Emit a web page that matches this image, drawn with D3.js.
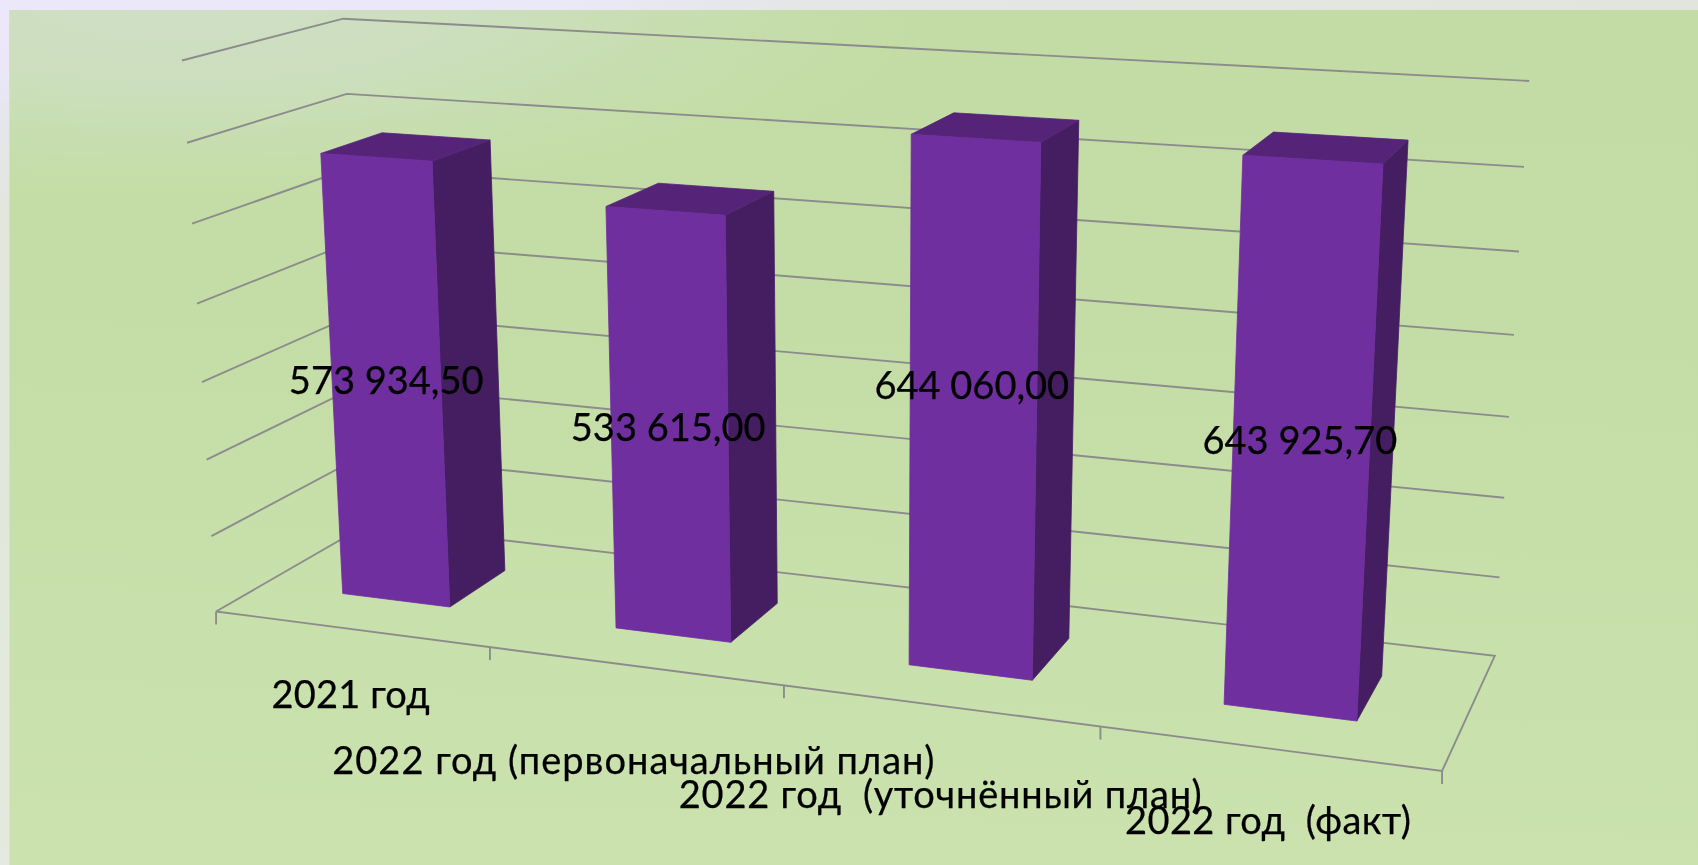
<!DOCTYPE html>
<html><head><meta charset="utf-8">
<script src="https://cdn.jsdelivr.net/npm/d3@7"></script>
<style>html,body{margin:0;padding:0;background:#ece9fb;overflow:hidden}svg{display:block;filter:blur(.5px)}text{white-space:pre;font-family:Lato,"Open Sans",sans-serif;fill:#000;stroke:#000;stroke-width:.25px}</style>
</head><body><svg id="c" width="1698" height="865"></svg>
<script>
// --- data ---
const categories = ["2021 год", "2022 год (первоначальный план)", "2022 год  (уточнённый план)", "2022 год  (факт)"];
const values = [573934.5, 533615.0, 644060.0, 643925.7];
const valueLabels = ["573 934,50", "533 615,00", "644 060,00", "643 925,70"];
const valueDomain = [0, 700000];
const gridCount = 7;

// --- layout ---
const W = 1698, H = 865;
const categoryLabelDrop = [79, 108, 102, 86];   // staggered baseline below the front floor edge
const categoryLabelShift = [2, 1, 3, 2];
const categoryLabelWidth = [158, 602, 523, 286];
const valueLabelShift = [[0, -3], [-1, 0], [-1, -27], [-1, -3]];
const fontSize = 38;

// world scales: x across, y up, z into the page, each onto the unit cube
const x = d3.scaleBand().domain(categories).range([0, 1]).paddingInner(0.6).paddingOuter(0.3);
const xStep = d3.scaleLinear().domain([0, categories.length]).range([0, 1]);
const y = d3.scaleLinear().domain(valueDomain).range([0, 1]);
const z = d3.scaleBand().domain(["s"]).range([0, 1]).paddingInner(0.6).paddingOuter(0.3);
const gridValues = y.ticks(gridCount);

// --- perspective camera fitted to the plot box corners ---
const cam = [
 [0,7,0,182,60],[0,6,0,187,142],[0,5,0,192.5,224],[0,4,0,197,304],[0,3,0,202,382],[0,2,0,206,460],[0,1,0,211,536],[0,0,0,217,612],
 [1,7,1,1529,81],[1,6,1,1524,167],[1,5,1,1519,252],[1,4,1,1513,334],[1,3,1,1510,417],[1,2,1,1505,498],[1,1,1,1500,578],[1,0,1,1494,655],
 [0,7,1,344,19],[0,6,1,346,94],[0,0,1,367,524],
 [.25,0,0,490,647],[.5,0,0,784,685],[.75,0,0,1100,727],[1,0,0,1442,771]
];
function fitCamera(pts){
  const n=11, A=Array.from({length:n},()=>new Array(n+1).fill(0));
  const add=(r,t)=>{for(let i=0;i<n;i++){for(let j=0;j<n;j++)A[i][j]+=r[i]*r[j];A[i][n]+=r[i]*t;}};
  pts.forEach(([X,Yk,Z,u,v])=>{const Y=Yk/7;
    add([X,Y,Z,1,0,0,0,0,-u*X,-u*Y,-u*Z],u);
    add([0,0,0,0,X,Y,Z,1,-v*X,-v*Y,-v*Z],v);});
  for(let c=0;c<n;c++){let p=c;for(let r=c+1;r<n;r++)if(Math.abs(A[r][c])>Math.abs(A[p][c]))p=r;
    [A[c],A[p]]=[A[p],A[c]];
    for(let r=0;r<n;r++){if(r===c)continue;const f=A[r][c]/A[c][c];for(let k=c;k<=n;k++)A[r][k]-=f*A[c][k];}}
  return A.map((r,i)=>r[n]/r[i]);
}
const M = fitCamera(cam);
function project(X,Y,Z){
  const w=M[8]*X+M[9]*Y+M[10]*Z+1;
  return [(M[0]*X+M[1]*Y+M[2]*Z+M[3])/w,(M[4]*X+M[5]*Y+M[6]*Z+M[7])/w];
}
const line = d3.line();

// --- background ---
const svg = d3.select("#c");
const defs = svg.append("defs");
const lg = defs.append("linearGradient").attr("id","bg").attr("x1",0.05).attr("y1",0).attr("x2",0).attr("y2",1);
[[0,"#c3dca5"],[.35,"#c4dda6"],[.7,"#c8e0ab"],[1,"#cbe2ae"]].forEach(([o,c])=>lg.append("stop").attr("offset",o).attr("stop-color",c));
const rg = defs.append("radialGradient").attr("id","glow").attr("gradientUnits","userSpaceOnUse")
  .attr("cx",0).attr("cy",0).attr("r",1).attr("gradientTransform","translate(180 0) scale(760 210)");
[[0,"#cfdfc6",1],[.45,"#cddfc0",.85],[1,"#c8dfb0",0]].forEach(([o,c,a])=>rg.append("stop").attr("offset",o).attr("stop-color",c).attr("stop-opacity",a));
const edge = defs.append("linearGradient").attr("id","edge").attr("x1",0).attr("y1",0).attr("x2",0).attr("y2",1);
[[0,"#ece7fa"],[.08,"#ebe7f8"],[.13,"#e6e6ee"],[.25,"#e2e6dc"],[.6,"#e1e7da"],[1,"#e4eadf"]].forEach(([o,c])=>edge.append("stop").attr("offset",o).attr("stop-color",c));
const edgeTop = defs.append("linearGradient").attr("id","edgeTop");
[[0,"#ece8fa"],[.33,"#ebe8f8"],[.47,"#e4e7e6"],[1,"#e0e6dc"]].forEach(([o,c])=>edgeTop.append("stop").attr("offset",o).attr("stop-color",c));
svg.append("rect").attr("width",W).attr("height",H).attr("fill","url(#edge)");
svg.append("rect").attr("width",W).attr("height",10).attr("fill","url(#edgeTop)");
svg.append("rect").attr("x",9.5).attr("y",10).attr("width",W-9).attr("height",H-10).attr("fill","url(#bg)");
svg.append("rect").attr("x",9.5).attr("y",10).attr("width",1000).attr("height",300).attr("fill","url(#glow)");

// --- walls and floor ---
const grid = svg.append("g").attr("fill","none").attr("stroke","#8c8c8c").attr("stroke-width",1.9);
gridValues.forEach(v=>{
  if(v===0) return;
  grid.append("path").attr("d",line([project(0,y(v),0),project(0,y(v),1),project(1,y(v),1)]));
});
grid.append("path").attr("d",line([project(0,0,0),project(0,0,1),project(1,0,1),project(1,0,0),project(0,0,0)]));
d3.range(categories.length+1).forEach(i=>{
  const p=project(xStep(i),0,0);
  grid.append("path").attr("d",line([p,[p[0],p[1]+13]]));
});

// --- bars ---
const bars = svg.append("g").selectAll("g").data(categories).join("g");
const z0=z("s"), z1=z0+z.bandwidth();
const face=(pts)=>line(pts.map(p=>project(...p)))+"Z";
const paint=(g,col,pts)=>g.append("path").attr("fill",col).attr("stroke",col).attr("stroke-width",.8).attr("stroke-linejoin","round").attr("d",face(pts));
bars.each(function(c,i){
  const x0=x(c), x1=x0+x.bandwidth(), t=y(values[i]), g=d3.select(this);
  paint(g,"#451e62",[[x1,0,z0],[x1,0,z1],[x1,t,z1],[x1,t,z0]]);
  paint(g,"#552478",[[x0,t,z0],[x1,t,z0],[x1,t,z1],[x0,t,z1]]);
  paint(g,"#6f2f9f",[[x0,0,z0],[x1,0,z0],[x1,t,z0],[x0,t,z0]]);
});

// --- value labels ---
svg.append("g").attr("font-size",fontSize).attr("text-anchor","middle").selectAll("text").data(categories).join("text")
  .text((c,i)=>valueLabels[i])
  .attr("x",(c,i)=>project(x(c)+x.bandwidth()/2,y(values[i])/2,z0)[0]+valueLabelShift[i][0])
  .attr("y",(c,i)=>project(x(c)+x.bandwidth()/2,y(values[i])/2,z0)[1]+valueLabelShift[i][1]+14);

// --- category labels ---
svg.append("g").attr("font-size",fontSize).attr("text-anchor","middle").selectAll("text").data(categories).join("text")
  .text(c=>c)
  .attr("textLength",(c,i)=>categoryLabelWidth[i])
  .attr("lengthAdjust","spacing")
  .attr("x",(c,i)=>project(xStep(i+.5),0,0)[0]-2+categoryLabelShift[i])
  .attr("y",(c,i)=>project(xStep(i+.5),0,0)[1]+categoryLabelDrop[i]);
</script></body></html>
